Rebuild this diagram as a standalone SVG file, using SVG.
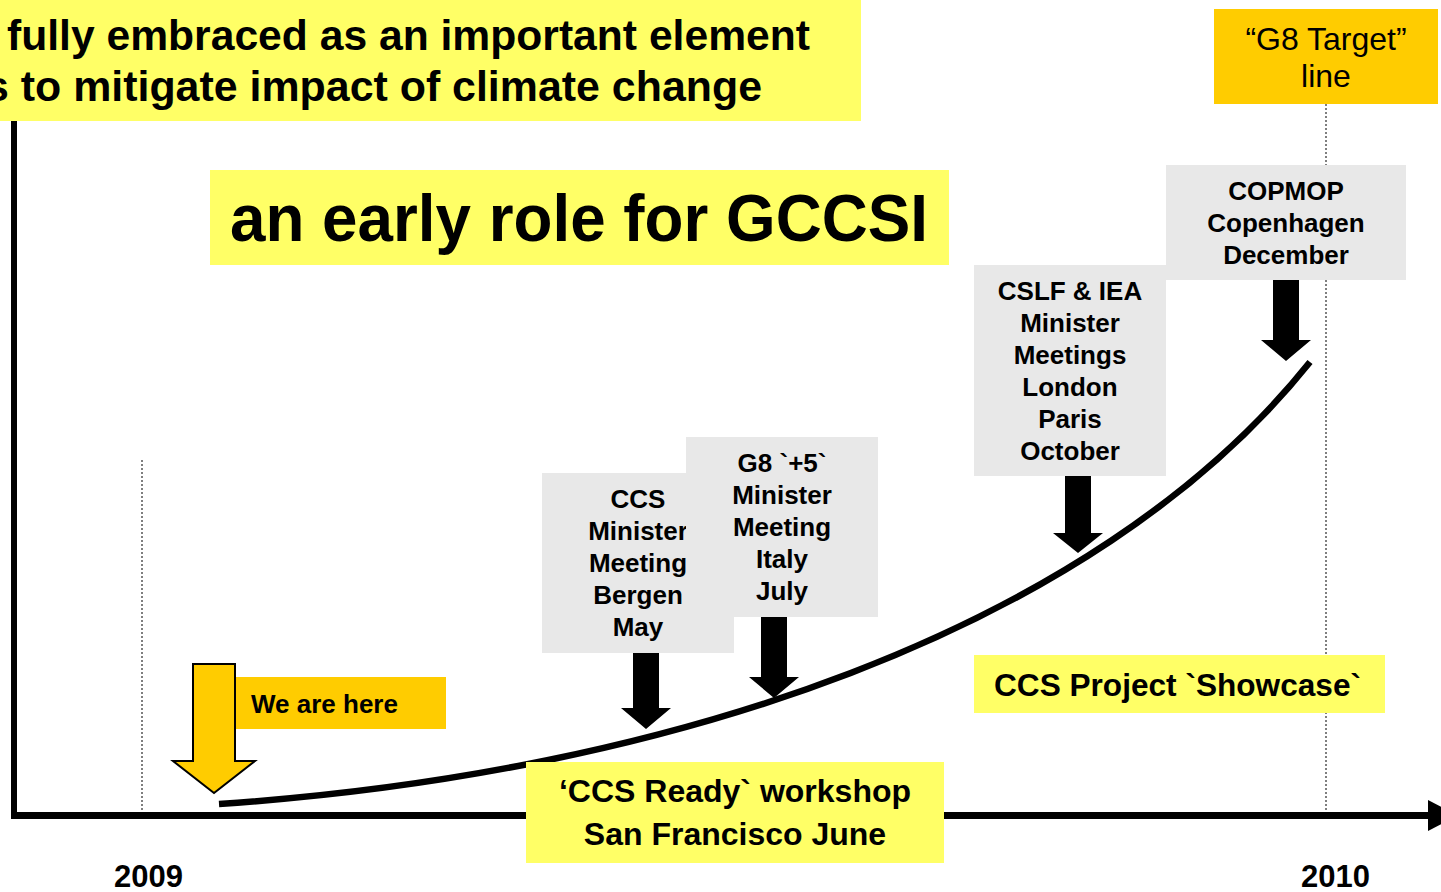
<svg xmlns="http://www.w3.org/2000/svg" width="1441" height="892" viewBox="0 0 1441 892">
<style>
text{font-family:"Liberation Sans",Arial,Helvetica,sans-serif;fill:#000}
.b{font-weight:bold}
.ev{font-size:26px;font-weight:bold;text-anchor:middle}
.big{font-size:32px;font-weight:bold}
.gray{fill:#E8E8E8}
.yel{fill:#FFFF66}
.org{fill:#FFCC00}
.blk{fill:#000}
.dot{stroke:#555;stroke-width:1.5;stroke-dasharray:2 2;fill:none}
</style>
<rect width="1441" height="892" fill="#fff"/>
<g id="axes">
<line class="dot" x1="142" y1="460" x2="142" y2="812"/>
<line class="dot" x1="1326" y1="104" x2="1326" y2="812"/>
<line x1="14" y1="100" x2="14" y2="818" stroke="#000" stroke-width="6"/>
<line x1="11" y1="815.5" x2="1432" y2="815.5" stroke="#000" stroke-width="7"/>
<polygon points="1428,800 1458,815.5 1428,831" fill="#000"/>
<text class="b" x="148.5" y="887" font-size="31" text-anchor="middle">2009</text>
<text class="b" x="1335.5" y="887" font-size="31" text-anchor="middle">2010</text>
</g>
<g id="connectors">
<path d="M219,804 C665,774 1094,632 1310,362" fill="none" stroke="#000" stroke-width="6.5"/>
<path class="blk" d="M633,653 H659 V708 H671 L646,729 L621,708 H633 Z"/>
<path class="blk" d="M761,617 H787 V677 H799 L774,698 L749,677 H761 Z"/>
<path class="blk" d="M1065,476 H1091 V533 H1103 L1078,553 L1053,533 H1065 Z"/>
<path class="blk" d="M1273,280 H1299 V340 H1311 L1286,361 L1261,340 H1273 Z"/>
</g>
<g id="header">
<rect class="yel" x="0" y="0" width="861" height="121"/>
<text class="b" x="7" y="50" font-size="43" textLength="803" lengthAdjust="spacingAndGlyphs">fully embraced as an important element</text>
<text class="b" x="-15" y="101" font-size="43" textLength="777" lengthAdjust="spacingAndGlyphs">s to mitigate impact of climate change</text>
</g>
<g id="title">
<rect class="yel" x="210" y="170" width="739" height="95"/>
<text class="b" x="230" y="241" font-size="66" textLength="698" lengthAdjust="spacingAndGlyphs">an early role for GCCSI</text>
</g>
<g id="g8target">
<rect class="org" x="1214" y="9" width="224" height="95"/>
<text x="1326" y="50" font-size="32" text-anchor="middle">“G8 Target”</text>
<text x="1326" y="87" font-size="32" text-anchor="middle">line</text>
</g>
<g id="copmop">
<rect class="gray" x="1166" y="165" width="240" height="115"/>
<text class="ev" x="1286" y="200">COPMOP</text>
<text class="ev" x="1286" y="232">Copenhagen</text>
<text class="ev" x="1286" y="264">December</text>
</g>
<g id="cslf">
<rect class="gray" x="974" y="265" width="192" height="211"/>
<text class="ev" x="1070" y="300">CSLF &amp; IEA</text>
<text class="ev" x="1070" y="332">Minister</text>
<text class="ev" x="1070" y="364">Meetings</text>
<text class="ev" x="1070" y="396">London</text>
<text class="ev" x="1070" y="428">Paris</text>
<text class="ev" x="1070" y="460">October</text>
</g>
<g id="bergen">
<rect class="gray" x="542" y="473" width="192" height="180"/>
<text class="ev" x="638" y="508">CCS</text>
<text class="ev" x="638" y="540">Minister</text>
<text class="ev" x="638" y="572">Meeting</text>
<text class="ev" x="638" y="604">Bergen</text>
<text class="ev" x="638" y="636">May</text>
</g>
<g id="g8plus5">
<rect class="gray" x="686" y="437" width="192" height="180"/>
<text class="ev" x="782" y="472">G8 `+5`</text>
<text class="ev" x="782" y="504">Minister</text>
<text class="ev" x="782" y="536">Meeting</text>
<text class="ev" x="782" y="568">Italy</text>
<text class="ev" x="782" y="600">July</text>
</g>
<g id="showcase">
<rect class="yel" x="974" y="655" width="411" height="58"/>
<text class="big" x="994" y="696" textLength="367" lengthAdjust="spacingAndGlyphs">CCS Project `Showcase`</text>
</g>
<g id="ready">
<rect class="yel" x="526" y="762" width="418" height="101"/>
<text class="big" x="735" y="802" text-anchor="middle">‘CCS Ready` workshop</text>
<text class="big" x="735" y="845" text-anchor="middle">San Francisco June</text>
</g>
<g id="wearehere">
<rect class="org" x="234" y="677" width="212" height="52"/>
<text class="b" x="251" y="713" font-size="26">We are here</text>
<path d="M193,664 H235 V761 H255 L214,793 L173,761 H193 Z" fill="#FFCC00" stroke="#000" stroke-width="2"/>
</g>
</svg>
